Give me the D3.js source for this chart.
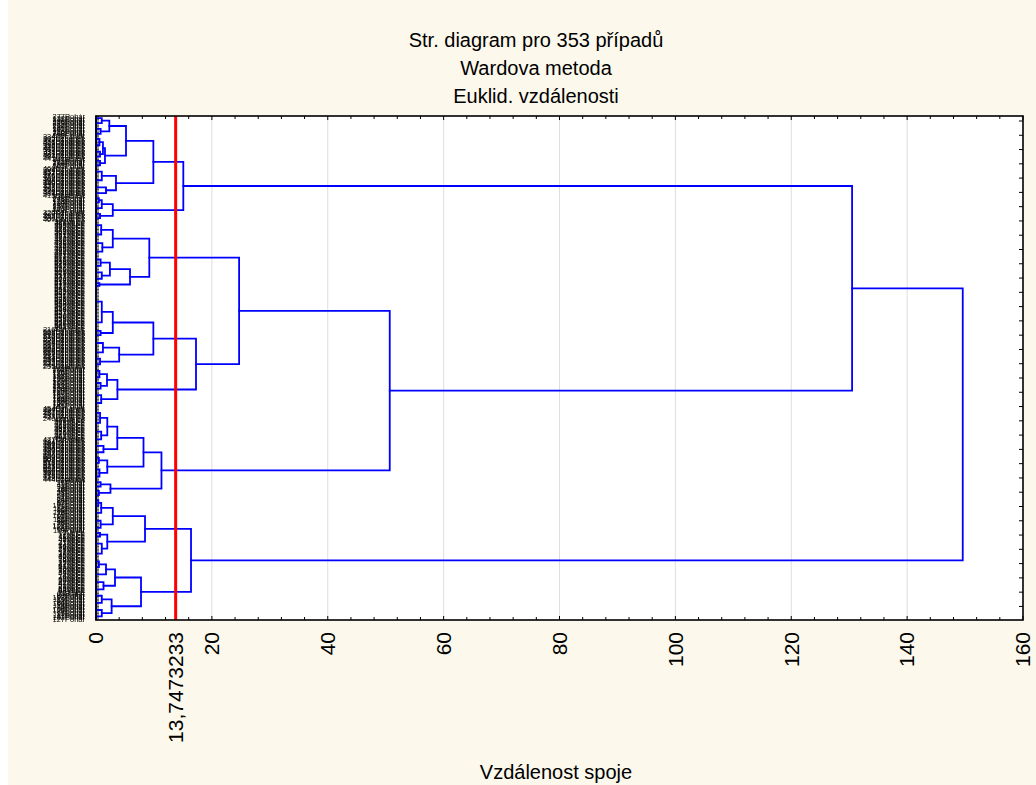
<!DOCTYPE html>
<html>
<head>
<meta charset="utf-8">
<script src="https://cdn.jsdelivr.net/npm/d3@7"></script>
<style>
  body { margin: 0; background: #fff; }
  text { font-family: Arial, 'Liberation Sans', sans-serif; }
  .case-labels { opacity: 0.99; will-change: transform; }
</style>
</head>
<body>
<script>
const titleLines = ['Str. diagram pro 353 případů', 'Wardova metoda', 'Euklid. vzdálenosti']
const axisTitle = 'Vzdálenost spoje'
const xTicks = [0, 20, 40, 60, 80, 100, 120, 140, 160]
const cutHeight = 13.7473233
const cutLabel = '13,7473233'
const typeNames = { P: 'Pohár', D: 'Džbánek', V: 'Vejce' }

// case labels in dendrogram order (number + type code)
const leafCodes = (
  '277P 132P 235P 256P 241P 219P 262P 289P 145P 301P 156P 210P 268P 190P ' +
  '334D 305D 312D 378D 421D 399D 356D 342D 445D 367D 338D 411D 327D 403D 384D 441D ' +
  '347P 172P 283P 298P 163P 201P ' +
  '460D 398D 431D 352D 417D 376D 455D 362D 409D 436D 390D 449D ' +
  '339D 427D 395D 458D 370D 443D 381D 415D ' +
  '236P 248P 275P 125P 194P 230P 137P 259P 303P 170P 184P ' +
  '325D 420D 393D 452D 360D 407D ' +
  '371V 389V 366V 359V 380V 374V 386V 363V 368V 377V 391V 383V 372V ' +
  '480V 492V 476V 498V 485V 474V 489V 495V 482V 478V 487V 473V ' +
  '501V 512V 505V 518V 509V 523V 515V 507V 526V 520V 503V 529V 511V 517V 533V 506V 524V 514V 531V 519V 527V 510V ' +
  '544V 551V 538V 562V 547V 556V 541V 549V 536V 553V 545V 558V 540V 392V 554V 548V 537V 557V 543V 550V 546V 539V 555V 542V 552V 535V 560V 561V 534V ' +
  '216D 568D 222D 565D 213D 570D ' +
  '239D 559D 226D 564D 218D 567D 233D 563D 229D 566D 215D 569D 224D ' +
  '251D 244D 258D 247D 253D 242D 249D 255D ' +
  '228P 192P 204P 176P 186P 198P 181P 207P 195P 179P 202P 188P 212P 183P 200P 174P 209P ' +
  '160P 147P 165P 152P 168P 143P 158P 150P 162P 141P 155P ' +
  '454D 234D 457D 237D 450D 231D 453D 240D 471V 466V 462V 475V 469V 464V 468V 461V 472V 465V 470V 463V 467V 459V 477D 481D 484D ' +
  '486D 491D 488D 494D 490D 483D 497D 493D 496D ' +
  '500D 504D 502D 508D 513D 516D 521D 525D 522D 528D 530D 532D 499D 479D 456D 448D 444D ' +
  '12P 27P 5P 41P 33P 18P 9P 46P 38P 21P 54P 2P ' +
  '61P 74P 88P 93P 67P 101P 79P 112P 96P 83P 118P 70P 105P 91P 62P 115P 86P 99P 76P 108P 121P 66P 94P 110P ' +
  '3V 17V 26V 11V 35V 48V 7V 31V 42V 14V 56V 24V 39V 1V 52V 19V 45V 30V 58V ' +
  '6V 13V 25V 37V 44V 51V 60V 10V 28V 34V 49V 4V 16V 40V 53V 20V 32V 47V 59V 23V 55V 63V 68V 72V ' +
  '65P 80P 97P 103P 119P 69P 84P 100P 114P 73P 90P 106P 123P 77P 95P 117P 81P 102P 127P'
).split(' ')

// merge tree: [linkage distance, upper, lower]; a plain number = that many cases joined at ~0
const clusterA1 = [15.07,
  [9.9,
    [5.18,
      [2.3, [1.0, 3, 4], [0.8, 4, 3]],
      [1.55, [1.2, [0.6, 4, 5], [0.7, 4, 3]], [0.7, 3, 3]]],
    [3.45, [1.0, 6, 6], [1.73, 4, 4]]],
  [2.9, [1.0, [0.5, 3, 3], 5], [0.7, 3, 3]]]
const clusterA2a1 = [9.2,
  [2.9, [0.9, 7, 6], [1.1, 6, 6]],
  [5.87, [2.4, [0.8, 5, 4], [1.0, 5, 4]], [0.6, 2, 2]]]
const clusterA2a2 = [17.26,
  [9.9,
    [2.9, [1.0, 20, 9], [0.8, 3, 3]],
    [4.0, [1.2, 8, 5], [0.7, 4, 4]]],
  [3.7, [1.9, [0.6, 5, 4], [0.8, 4, 4]], [0.9, 5, 6]]]
const clusterA2b = [11.3,
  [8.2,
    [3.68, [1.95, [0.7, 8, 6], [0.9, 6, 5]], [1.3, 4, 5]],
    [1.95, [0.5, 3, 4], [0.6, 5, 5]]],
  [2.5, [0.8, 3, 3], [0.5, 3, 3]]]
const clusterB = [16.4,
  [8.46,
    [2.9, [0.9, [0.4, 4, 4], 6], [0.8, 5, 5]],
    [1.95, [0.7, 2, 3], [1.0, 7, 7]]],
  [7.77,
    [3.28, [1.73, [0.5, 4, 4], 6], [1.3, 5, 5]],
    [2.7, [1.0, 4, 6], [1.0, 4, 5]]]]
const mergeTree = [149.6, [130.5, clusterA1, [50.7, [24.7, clusterA2a1, clusterA2a2], clusterA2b]], clusterB]

const width = 1036
const height = 785
const plotLeft = 96
const plotRight = 1023
const plotTop = 116
const plotBottom = 620
const lineColor = '#0000ff'

function toNode(t) {
  if (typeof t === 'number') {
    if (t === 1) return { h: 0 }
    var kids = []
    for (var i = 0; i < t; i++) kids.push({ h: 0 })
    return { h: 0, children: kids }
  }
  return { h: t[0], children: [toNode(t[1]), toNode(t[2])] }
}

var root = d3.hierarchy(toNode(mergeTree), function(d) { return d.children })
var leaves = root.leaves()
leaves.forEach(function(d, i) {
  d.pos = i
  var code = leafCodes[i] || ''
  d.label = code.slice(0, -1) + (typeNames[code.slice(-1)] || '')
})
root.eachAfter(function(d) {
  if (d.children) d.pos = d3.mean(d.children, function(c) { return c.pos })
})

var x = d3.scaleLinear().domain([0, 160]).range([plotLeft, plotRight])
var y = d3.scaleLinear().domain([-0.5, leaves.length - 0.5]).range([plotTop, plotBottom])

var svg = d3.select('body').append('svg')
  .attr('width', width)
  .attr('height', height)

svg.append('rect')
  .attr('x', 8).attr('y', 0)
  .attr('width', width - 8).attr('height', height)
  .attr('fill', '#fcf8ec')

svg.append('rect')
  .attr('x', plotLeft).attr('y', plotTop)
  .attr('width', plotRight - plotLeft).attr('height', plotBottom - plotTop)
  .attr('fill', '#fff')

// titles
svg.append('g').selectAll('text')
  .data(titleLines)
  .join('text')
  .attr('x', 536)
  .attr('y', function(d, i) { return 47 + i * 28 })
  .attr('text-anchor', 'middle')
  .attr('font-size', 20)
  .text(function(d) { return d })

svg.append('text')
  .attr('x', 556)
  .attr('y', 779)
  .attr('text-anchor', 'middle')
  .attr('font-size', 20)
  .text(axisTitle)

// grid
svg.append('g').selectAll('line')
  .data(xTicks.filter(function(d) { return d > 0 && d < 160 }))
  .join('line')
  .attr('x1', x).attr('x2', x)
  .attr('y1', plotTop).attr('y2', plotBottom)
  .attr('stroke', '#dedede')
  .attr('stroke-width', 1)

// case labels
svg.append('g')
  .attr('class', 'case-labels')
  .selectAll('text')
  .data(leaves)
  .join('text')
  .attr('x', 85)
  .attr('y', function(d) { return y(d.pos) })
  .attr('dy', '0.35em')
  .attr('text-anchor', 'end')
  .attr('font-size', 7.5)
  .attr('fill', '#000')
  .text(function(d) { return d.label })

// leaf ticks on the left axis
svg.append('g').selectAll('line')
  .data(leaves)
  .join('line')
  .attr('x1', plotLeft).attr('x2', plotLeft + 3)
  .attr('y1', function(d) { return y(d.pos) })
  .attr('y2', function(d) { return y(d.pos) })
  .attr('stroke', '#000')
  .attr('stroke-width', 0.7)

// dendrogram
svg.append('g').selectAll('path')
  .data(root.descendants().filter(function(d) { return d.children }))
  .join('path')
  .attr('d', function(d) {
    var hx = x(d.data.h)
    var p = ''
    d.children.forEach(function(c) {
      p += 'M' + x(c.data.h) + ',' + y(c.pos) + 'H' + hx
    })
    p += 'M' + hx + ',' + y(d.children[0].pos) + 'V' + y(d.children[d.children.length - 1].pos)
    return p
  })
  .attr('fill', 'none')
  .attr('stroke', lineColor)
  .attr('stroke-width', 1.8)
  .attr('stroke-linecap', 'square')

// cut line
svg.append('line')
  .attr('x1', x(cutHeight)).attr('x2', x(cutHeight))
  .attr('y1', plotTop).attr('y2', plotBottom)
  .attr('stroke', '#ff0000')
  .attr('stroke-width', 3)

// axis ticks
var minorTicks = d3.range(0, 161, 4)
var tickG = svg.append('g').attr('stroke', '#000').attr('stroke-width', 1)
minorTicks.forEach(function(v) {
  var len = v % 20 === 0 ? 4 : 3
  tickG.append('line').attr('x1', x(v)).attr('x2', x(v)).attr('y1', plotTop).attr('y2', plotTop + len)
  tickG.append('line').attr('x1', x(v)).attr('x2', x(v)).attr('y1', plotBottom).attr('y2', plotBottom - len)
})
d3.range(3, leaves.length, 10).forEach(function(i) {
  tickG.append('line').attr('x1', plotRight).attr('x2', plotRight - 4).attr('y1', y(i)).attr('y2', y(i))
})

svg.append('rect')
  .attr('x', plotLeft).attr('y', plotTop)
  .attr('width', plotRight - plotLeft).attr('height', plotBottom - plotTop)
  .attr('fill', 'none')
  .attr('stroke', '#000')
  .attr('stroke-width', 1.6)

// rotated tick labels
var tickLabels = xTicks.map(function(v) { return { v: v, t: String(v) } })
tickLabels.push({ v: cutHeight, t: cutLabel })
svg.append('g').selectAll('text')
  .data(tickLabels)
  .join('text')
  .attr('transform', function(d) { return 'translate(' + x(d.v) + ',632) rotate(-90)' })
  .attr('dy', '0.35em')
  .attr('text-anchor', 'end')
  .attr('font-size', 21)
  .text(function(d) { return d.t })
</script>
</body>
</html>
